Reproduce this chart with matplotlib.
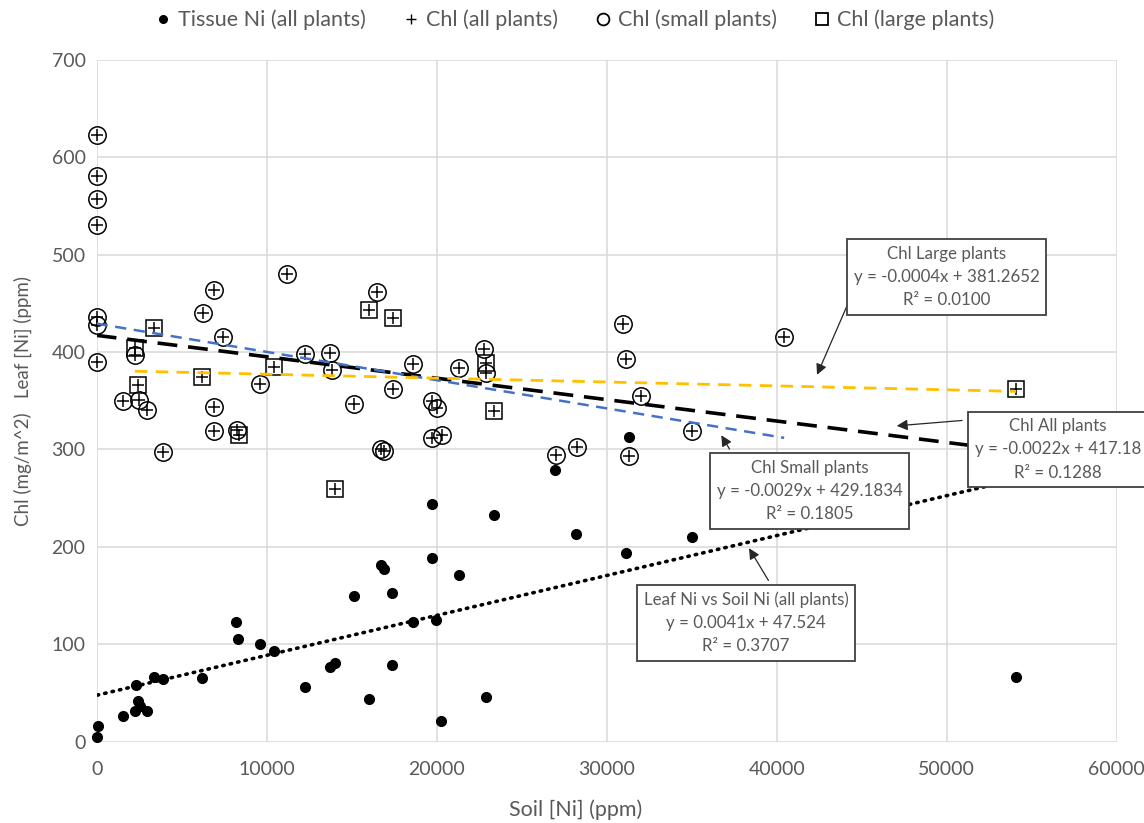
import numpy as np
import matplotlib.pyplot as plt
from matplotlib.lines import Line2D

plt.switch_backend("Agg")
plt.rcParams["font.family"] = ["Lato", "DejaVu Sans"]

GRAY = "#595959"

# --- data --------------------------------------------------------------
tissue_x = [35, 100, 1530, 2250, 2940, 2410, 2550, 2290, 3390, 3920, 6180,
            8190, 8330, 9620, 10450, 12240, 13720, 14020, 15130, 16040,
            16700, 16900, 17390, 17390, 18620, 19960, 19700, 19700, 21290,
            20270, 22880, 23370, 26960, 28210, 31120, 31310, 35000, 54080]
tissue_y = [5, 16, 26, 31, 31, 42, 36, 58, 66, 64, 65,
            123, 105, 100, 93, 56, 77, 81, 149, 44,
            181, 177, 153, 79, 123, 125, 244, 188, 171,
            21, 46, 233, 279, 213, 194, 313, 210, 66]

small_x = [0, 0, 0, 0, 0, 0, 0, 2250, 1530, 2490, 2940, 3920, 6270, 6880,
           7450, 6880, 6880, 8230, 9630, 11220, 12250, 13720, 13820, 15120,
           16510, 17410, 18590, 16720, 16920, 19700, 20000, 19700, 20330,
           21310, 22800, 22900, 27020, 28230, 30940, 31130, 31310, 32020,
           35000, 40440]
small_y = [623, 581, 557, 531, 436, 428, 390, 397, 350, 351, 341, 297, 440,
           464, 415, 344, 319, 320, 367, 480, 398, 399, 382, 347,
           462, 362, 388, 300, 298, 350, 343, 312, 315,
           384, 403, 379, 294, 303, 429, 393, 293, 355,
           319, 416]

large_x = [2250, 2430, 3390, 6210, 8370, 10460, 14020, 16040, 17410, 22900,
           23370, 54080]
large_y = [404, 366, 425, 374, 315, 385, 259, 443, 435, 389, 339, 362]

all_x = small_x + large_x
all_y = small_y + large_y

# trendline equations as printed on the chart
fit_leaf = (0.0041, 47.524)
fit_all = (-0.0022, 417.18)
fit_small = (-0.0029, 429.1834)
fit_large = (-0.0004, 381.2652)

fig = plt.figure(figsize=(11.44, 8.23), dpi=100)
ax = fig.add_axes([0.0845, 0.099, 0.8916, 0.8281])

# points (not clipped, the x=0 ones sit on the axis)
ax.plot(tissue_x, tissue_y, "o", color="black", ms=7, zorder=4, clip_on=False)
ax.plot(small_x, small_y, "o", mfc="none", mec="black", ms=12.5, mew=1.1,
        zorder=3, clip_on=False)
ax.plot(large_x, large_y, "s", mfc="none", mec="black", ms=11.5, mew=1.1,
        zorder=3, clip_on=False)
ax.plot(all_x, all_y, "+", color="black", ms=8, mew=1.1, zorder=3, clip_on=False)


def trend(fit, xs, **kw):
    x0, x1 = min(xs), max(xs)
    xx = np.array([x0, x1])
    ax.plot(xx, fit[0] * xx + fit[1], **kw)


trend(fit_leaf, tissue_x, color="black", lw=2.6, ls=(0, (0.4, 1.7)),
      dash_capstyle="round", zorder=5)
trend(fit_all, all_x, color="black", lw=2.6, ls=(0, (5.5, 3)), zorder=5)
trend(fit_small, small_x, color="#4472C4", lw=1.8, ls=(0, (4.5, 3)), zorder=5)
trend(fit_large, large_x, color="#FFC000", lw=2.0, ls=(0, (4.5, 3)), zorder=5)

# axes styling
ax.set_xlim(0, 60000)
ax.set_ylim(0, 700)
ax.set_xticks(range(0, 60001, 10000))
ax.set_yticks(range(0, 701, 100))
ax.grid(True, color="#d9d9d9", lw=1.1)
ax.set_axisbelow(True)
for s in ax.spines.values():
    s.set_visible(False)
ax.tick_params(length=0, labelsize=14, labelcolor=GRAY)
ax.tick_params(axis="x", pad=14)
ax.tick_params(axis="y", pad=8)
ax.set_ylabel("Chl (mg/m^2)   Leaf [Ni] (ppm)", fontsize=13.5, color=GRAY,
              labelpad=14)
fig.text(0.503, 0.016, "Soil [Ni] (ppm)", ha="center", va="center",
         fontsize=15.5, color=GRAY)

# annotation boxes
box = dict(boxstyle="square,pad=0.4", fc="white", ec="#404040", lw=1.3)
arrow = dict(arrowstyle="-|>", color="#262626", lw=0.9, mutation_scale=16)
labels = [
    ("Chl Large plants\ny = -0.0004x + 381.2652\nR² = 0.0100",
     (49990, 477), (44200, 450), (42310, 374)),
    ("Chl All plants\ny = -0.0022x + 417.18\nR² = 0.1288",
     (56540, 300), (51070, 330), (46900, 324)),
    ("Chl Small plants\ny = -0.0029x + 429.1834\nR² = 0.1805",
     (41950, 257), (37310, 298), (36660, 317)),
    ("Leaf Ni vs Soil Ni (all plants)\ny = 0.0041x + 47.524\nR² = 0.3707",
     (38190, 122), (39600, 163), (38290, 201)),
]
for txt, center, start, tip in labels:
    ax.annotate("", xy=tip, xytext=start, arrowprops=arrow, zorder=6)
    ax.text(center[0], center[1], txt, ha="center", va="center",
            fontsize=12.2, color=GRAY, linespacing=1.55, bbox=box,
            zorder=7, clip_on=False)

# legend
handles = [
    Line2D([], [], ls="none", marker="o", color="black", ms=5.5),
    Line2D([], [], ls="none", marker="+", color="black", ms=6.5),
    Line2D([], [], ls="none", marker="o", mfc="none", mec="black", ms=8.5, mew=1.3),
    Line2D([], [], ls="none", marker="s", mfc="none", mec="black", ms=8.5, mew=1.3),
]
names = ["Tissue Ni (all plants)", "Chl (all plants)",
         "Chl (small plants)", "Chl (large plants)"]
leg = fig.legend(handles, names, loc="center", bbox_to_anchor=(0.502, 0.976),
                 ncol=4, frameon=False, fontsize=15.5, handlelength=0.8,
                 handletextpad=0.3, columnspacing=1.7)
for t in leg.get_texts():
    t.set_color(GRAY)

fig.savefig("out.png", dpi=100)
plt.close(fig)
